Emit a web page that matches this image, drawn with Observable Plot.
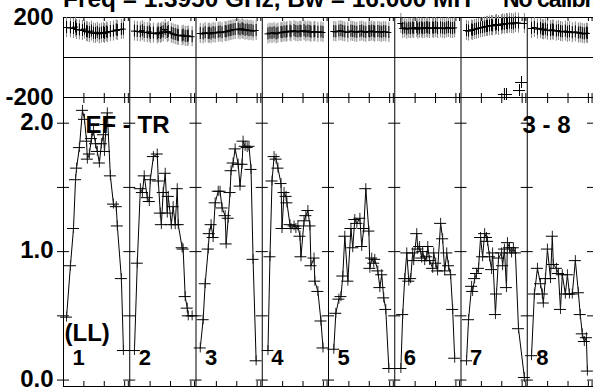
<!DOCTYPE html>
<html><head><meta charset="utf-8">
<script src="https://cdn.jsdelivr.net/npm/d3@7"></script>
<script src="https://cdn.jsdelivr.net/npm/@observablehq/plot@0.6"></script>
<style>
html,body{margin:0;padding:0;background:#fff;}
#wrap{position:relative;width:593px;height:388px;overflow:hidden;font-family:"Liberation Sans",Arial,Helvetica,sans-serif;}
.ttl{position:absolute;top:-14px;font-size:24.4px;font-weight:bold;line-height:25px;white-space:nowrap;color:#000;}
#t2{font-size:23px;letter-spacing:-1px;top:-13px;}
#wrap svg{position:absolute;left:0;top:0;}
</style></head><body>
<div id="wrap">
<div class="ttl" id="t1" style="left:63px"></div>
<div class="ttl" id="t2" style="left:503px"></div>
</div>
<script>
// ---- text ----
const titleMain = "Freq = 1.3950 GHz, Bw = 16.000 MH";
const titleNote = "No calibration";
const baselineLabel = "EF - TR";
const sourceLabel = "3 - 8";
const polLabel = "(LL)";
const channels = ["1","2","3","4","5","6","7","8"];

// ---- axes ----
const PANEL = 3.25;                 // hours spanned by each channel panel
const hourTicks = [1, 2, 3, 3.18];  // time ticks inside each panel (h)
const phaseTicks = [200, -200];
const phaseDomain = [-200, 200];
const ampTicks = [0, 1, 2];
const ampMinorTicks = [0, 0.5, 1, 1.5, 2];
const ampDomain = [-0.05, 2.2];

// ---- data: time (h within panel), amplitude, phase (deg) per channel ----
const time1 = [0.15,0.34,0.49,0.59,0.64,0.78,0.93,1.03,1.13,1.17,1.27,1.37,1.47,1.57,1.66,1.76,1.86,1.96,2.01,2.10,2.15,2.30,2.45,2.59,2.64,2.84,2.94];
const amp1  = [0.49,0.89,1.18,1.56,1.65,1.81,2.10,2.03,1.86,1.72,1.76,1.88,1.94,1.84,1.78,1.69,1.84,1.91,1.78,1.99,2.08,1.59,1.37,1.35,1.20,0.79,0.23];
const phase1= [150,148,145,152,140,138,135,142,130,128,124,132,122,120,126,118,122,125,120,128,124,130,132,138,135,140,142];

const time2 = [0.23,0.37,0.52,0.62,0.71,0.86,0.96,1.01,1.16,1.35,1.40,1.50,1.55,1.64,1.74,1.84,1.89,2.04,2.13,2.23,2.33,2.38,2.57,2.62,2.72,2.82,2.87,3.06];
const amp2  = [0.23,0.91,1.49,1.46,1.59,1.42,1.39,1.56,1.74,1.76,1.55,1.30,1.21,1.46,1.61,1.30,1.43,1.21,1.35,1.21,1.49,1.21,1.03,1.02,0.65,0.56,0.50,0.50];
const phase2= [132,130,128,134,126,124,128,120,122,118,124,120,126,128,140,125,130,122,118,115,112,110,108,112,106,105,108,104];

const time3 = [0.21,0.35,0.45,0.60,0.65,0.74,0.84,0.94,1.09,1.18,1.28,1.43,1.48,1.58,1.67,1.72,1.82,1.92,2.07,2.16,2.26,2.31,2.41,2.51,2.60,2.70,2.80,2.95];
const amp3  = [0.25,0.47,0.75,1.02,1.14,1.21,1.11,1.38,1.47,1.47,1.34,1.28,1.06,1.26,1.46,1.63,1.69,1.80,1.68,1.51,1.68,1.86,1.82,1.81,1.82,1.64,0.94,0.15];
const phase3= [120,118,124,120,122,118,125,122,126,128,124,130,128,132,134,136,138,140,142,138,144,140,136,138,134,136,132,135];

const time4 = [0.28,0.38,0.48,0.58,0.68,0.77,0.92,0.97,1.07,1.17,1.21,1.36,1.41,1.56,1.65,1.75,1.85,1.90,2.05,2.14,2.24,2.34,2.39,2.54,2.58,2.73,2.88,2.98];
const amp4  = [0.23,0.96,1.55,1.74,1.72,1.65,1.53,1.18,1.46,1.43,1.38,1.21,1.18,1.20,1.18,1.20,1.12,0.96,1.24,1.28,1.32,1.20,0.89,0.95,0.77,0.69,0.46,0.25];
const phase4= [118,122,120,124,118,122,126,124,128,126,130,132,128,134,130,128,132,130,134,128,132,130,126,128,130,126,128,125];

const time5 = [0.26,0.36,0.51,0.61,0.70,0.80,0.95,1.10,1.19,1.29,1.39,1.54,1.63,1.73,1.83,1.98,2.03,2.12,2.22,2.27,2.42,2.52,2.61,2.71,2.81,2.96];
const amp5  = [0.24,0.52,0.63,0.65,0.81,1.12,0.77,1.18,1.03,1.25,1.22,1.26,1.04,1.18,1.49,1.16,0.87,0.95,0.91,0.94,0.85,0.72,0.82,0.64,0.55,0.09];
const phase5= [130,128,132,134,130,128,126,132,130,128,126,130,132,128,126,130,128,132,130,127,130,128,126,130,128,125];

const time6 = [0.30,0.39,0.49,0.59,0.69,0.78,0.88,0.93,1.08,1.13,1.22,1.32,1.37,1.47,1.57,1.62,1.71,1.86,1.91,2.01,2.10,2.25,2.35,2.45,2.55,2.64,2.74,2.84,2.94];
const amp6  = [0.09,0.51,0.79,0.99,0.77,0.79,0.99,0.93,1.14,1.02,1.04,0.95,1.00,0.93,0.96,1.04,0.93,0.87,0.99,0.91,0.85,1.22,1.10,0.85,0.99,0.89,0.82,0.55,0.17];
const phase6= [170,145,148,142,146,144,148,145,150,142,146,148,144,146,150,147,145,148,146,150,145,148,146,144,148,150,146,145,148];

const time7 = [0.27,0.37,0.52,0.57,0.67,0.76,0.86,0.96,1.06,1.16,1.25,1.30,1.40,1.50,1.55,1.69,1.74,1.84,1.99,2.04,2.13,2.23,2.28,2.38,2.48,2.57,2.67,2.82,3.11];
const amp7  = [0.15,0.47,0.73,0.69,0.79,0.83,0.87,1.11,0.96,1.14,1.11,1.08,0.96,0.86,0.99,0.51,0.67,0.95,0.99,0.89,1.02,0.72,1.07,1.03,0.99,1.03,0.99,0.40,0.02];
const phase7= [135,132,138,136,140,142,145,148,150,152,155,156,158,160,158,162,165,160,164,168,166,170,168,172,170,168,174,172,170];

const time8 = [0.21,0.35,0.50,0.65,0.74,0.79,0.89,0.99,1.14,1.23,1.28,1.43,1.53,1.63,1.72,1.87,1.97,2.07,2.21,2.36,2.51,2.60,2.70,2.80,2.90,2.95];
const amp8  = [0.19,0.67,0.87,0.75,0.67,0.60,0.79,1.02,0.79,1.12,0.90,0.87,0.83,0.55,0.82,0.67,0.82,0.67,0.67,0.93,0.68,0.51,0.36,0.30,0.33,0.07];
const phase8= [145,150,142,146,140,138,142,136,134,138,136,132,135,130,128,132,126,130,124,128,122,124,120,118,122,120];

// stray phase points in channel 7
const outlierChannel = 6;
const outlierTime  = [2.13, 2.23, 2.87, 2.97];
const outlierPhase = [-185, -185, -165, -125];

// ---- build tables ----
const times  = [time1,time2,time3,time4,time5,time6,time7,time8];
const amps   = [amp1,amp2,amp3,amp4,amp5,amp6,amp7,amp8];
const phases = [phase1,phase2,phase3,phase4,phase5,phase6,phase7,phase8];
const rows = channels.flatMap((c, i) => times[i].map((t, j) => ({ch: c, x: i * PANEL + t, amp: amps[i][j], ph: phases[i][j]})));
const outRows = outlierTime.map((t, j) => ({x: outlierChannel * PANEL + t, ph: outlierPhase[j]}));
const dividers = channels.map((c, i) => i * PANEL);
const xTicks = dividers.flatMap(d => hourTicks.map(h => d + h));
const edgeTicks = d3.range(channels.length + 1).flatMap(i => ampMinorTicks.map(v => ({x: i * PANEL, y: v})));
const xDomain = [0, channels.length * PANEL];

const font = {fontFamily: '"Liberation Sans", Arial, Helvetica, sans-serif', fontSize: "24px", fontWeight: "bold", background: "transparent", overflow: "visible", color: "black"};
const W = 593, H = 388;

// ---- amplitude panel ----
const ampTop = 97, ampBottom = 386;
const ampH = ampBottom - ampTop;
const bottomPlot = Plot.plot({
  width: W, height: H,
  marginLeft: 63, marginRight: 0, marginTop: ampTop, marginBottom: H - ampBottom,
  x: {domain: xDomain, axis: null},
  y: {domain: ampDomain, axis: null},
  style: font,
  marks: [
    Plot.ruleY([ampDomain[0]], {stroke: "black"}),
    Plot.ruleX(dividers, {stroke: "black"}),
    Plot.ruleX(xTicks, {stroke: "black", insetTop: ampH - 5}),
    Plot.ruleX(xTicks, {stroke: "black", insetBottom: ampH - 6}),
    Plot.ruleY(edgeTicks, {y: "y", x1: "x", x2: "x", insetLeft: -6, insetRight: -6, stroke: "black"}),
    Plot.line(rows, {x: "x", y: "amp", z: "ch", stroke: "black", strokeWidth: 1}),
    Plot.ruleX(rows, {x: "x", y1: "amp", y2: "amp", insetTop: -5, insetBottom: -5, stroke: "#222"}),
    Plot.ruleY(rows, {y: "amp", x1: "x", x2: "x", insetLeft: -6, insetRight: -6, stroke: "black"}),
    Plot.axisY(ampTicks, {tickSize: 0, tickPadding: 10, tickFormat: d => d.toFixed(1), label: null, fill: "black", dy: -1}),
    Plot.text(channels, {x: (d, i) => i * PANEL, text: d => d, frameAnchor: "bottom", textAnchor: "start", lineAnchor: "bottom", dx: 9, dy: -22, fontSize: 22, fill: "black"}),
    Plot.text([polLabel], {text: d => d, frameAnchor: "bottom-left", textAnchor: "start", lineAnchor: "bottom", dx: 1, dy: -46, fill: "black"}),
    Plot.text([baselineLabel], {text: d => d, frameAnchor: "top-left", textAnchor: "start", lineAnchor: "bottom", dx: 22, dy: 35, fill: "black"}),
    Plot.text([sourceLabel], {text: d => d, frameAnchor: "top-right", textAnchor: "end", lineAnchor: "bottom", dx: -23, dy: 35, fill: "black"})
  ]
});

// ---- phase panel ----
const phTop = 17, phBottom = 97;
const phH = phBottom - phTop;
const topPlot = Plot.plot({
  width: W, height: H,
  marginLeft: 63, marginRight: 0, marginTop: phTop, marginBottom: H - phBottom,
  x: {domain: xDomain, axis: null},
  y: {domain: phaseDomain, axis: null},
  style: font,
  marks: [
    Plot.ruleY([phaseDomain[1], 0, phaseDomain[0]], {stroke: "black"}),
    Plot.ruleX(dividers, {stroke: "black"}),
    Plot.ruleX(xTicks, {stroke: "black", insetBottom: phH - 4}),
    Plot.ruleX(xTicks, {stroke: "black", insetTop: phH - 4}),
    Plot.ruleX(rows, {x: "x", y1: "ph", y2: "ph", insetTop: -10, insetBottom: -10, stroke: "#888"}),
    Plot.line(rows, {x: "x", y: "ph", z: "ch", stroke: "black", strokeWidth: 1}),
    Plot.ruleX(rows, {x: "x", y1: "ph", y2: "ph", insetTop: -6, insetBottom: -6, stroke: "black"}),
    Plot.ruleY(rows, {y: "ph", x1: "x", x2: "x", insetLeft: -3, insetRight: -3, stroke: "black"}),
    Plot.ruleX(outRows, {x: "x", y1: "ph", y2: "ph", insetTop: -6, insetBottom: -6, stroke: "black"}),
    Plot.ruleY(outRows, {y: "ph", x1: "x", x2: "x", insetLeft: -6, insetRight: -6, stroke: "black"}),
    Plot.axisY(phaseTicks, {tickSize: 0, tickPadding: 10, tickFormat: d => String(d), label: null, fill: "black"})
  ]
});

const wrap = document.getElementById("wrap");
document.getElementById("t1").textContent = titleMain;
document.getElementById("t2").textContent = titleNote;
wrap.appendChild(bottomPlot);
wrap.appendChild(topPlot);
</script>
</body></html>
